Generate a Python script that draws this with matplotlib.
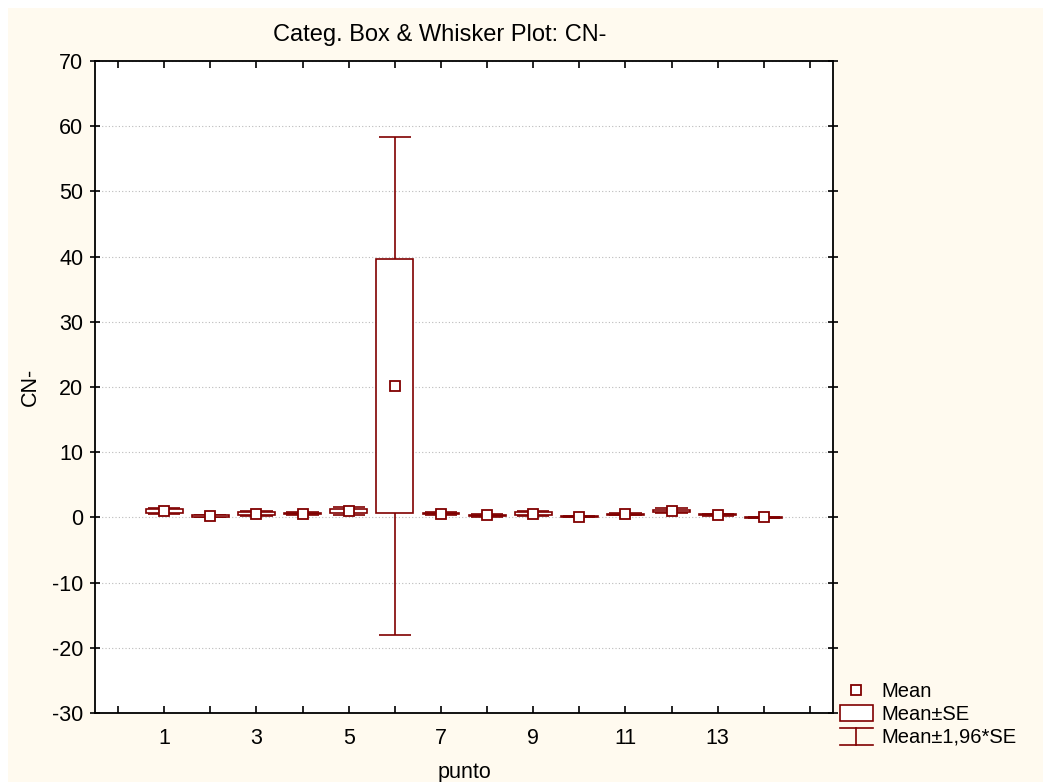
import numpy as np
import matplotlib
matplotlib.use("Agg")
import matplotlib.pyplot as plt
from matplotlib.patches import Rectangle
from matplotlib.lines import Line2D
from matplotlib.legend_handler import HandlerBase

plt.rcParams["font.family"] = ["Liberation Sans", "DejaVu Sans"]
plt.rcParams["axes.unicode_minus"] = False

DARK = "#800000"
CREAM = "#FFFAEF"
FS = 15.5

# ── data ──
punto = np.arange(1, 15)
means = [1.0, 0.2, 0.6, 0.6, 1.0, 20.15, 0.6, 0.3, 0.6, 0.1, 0.5, 1.0, 0.4, 0.0]
se = [0.25, 0.1, 0.2, 0.1, 0.3, 19.45, 0.1, 0.1, 0.2, 0.05, 0.1, 0.2, 0.1, 0.03]
xtick_labels = ["1", "3", "5", "7", "9", "11", "13"]

means = np.array(means)
se = np.array(se)
lo95 = means - 1.96 * se
hi95 = means + 1.96 * se


class WhiskerHandler(HandlerBase):
    def create_artists(self, legend, orig, xd, yd, w, h, fontsize, trans):
        cx = xd + w / 2
        arts = [
            Line2D([xd, xd + w], [yd + h * 1.05, yd + h * 1.05], color=DARK, lw=1.2),
            Line2D([xd, xd + w], [yd - h * 0.2, yd - h * 0.2], color=DARK, lw=1.2),
            Line2D([cx, cx], [yd - h * 0.2, yd + h * 1.05], color=DARK, lw=1.2),
        ]
        for a in arts:
            a.set_transform(trans)
        return arts


class BoxHandler(HandlerBase):
    def create_artists(self, legend, orig, xd, yd, w, h, fontsize, trans):
        r = Rectangle((xd, yd - h * 0.1), w, h * 1.15, facecolor="white",
                      edgecolor=DARK, lw=1.2, transform=trans)
        return [r]


fig = plt.figure(figsize=(10.43, 7.82), dpi=100, facecolor="white")
fig.patches.append(Rectangle((8 / 1043, 0), 1, 1 - 8 / 782, transform=fig.transFigure,
                             facecolor=CREAM, edgecolor="none", zorder=-10))
ax = fig.add_axes([0.0911, 0.0882, 0.7076, 0.8338])
ax.set_facecolor("white")

# whiskers
ax.vlines(punto, lo95, hi95, color=DARK, lw=1.2, zorder=2)
ax.hlines(lo95, punto - 0.35, punto + 0.35, color=DARK, lw=1.2, zorder=2)
ax.hlines(hi95, punto - 0.35, punto + 0.35, color=DARK, lw=1.2, zorder=2)
# SE boxes
ax.bar(punto, 2 * se, bottom=means - se, width=0.8, facecolor="white",
       edgecolor=DARK, lw=1.2, zorder=3)
# means
ax.plot(punto, means, ls="none", marker="s", ms=7, mfc="white", mec=DARK,
        mew=1.3, zorder=4)

ax.set_xlim(-0.5, 15.5)
ax.set_ylim(-30, 70)
ax.set_yticks(np.arange(-30, 71, 10))
ax.set_xticks(np.arange(0, 16))
labels = [""] * 16
for i, lab in zip(range(1, 14, 2), xtick_labels):
    labels[i] = lab
ax.set_xticklabels(labels)
ax.yaxis.grid(True, ls=(0, (1, 2)), color="#BBBBBB", lw=0.8, zorder=0)
ax.set_axisbelow(True)

ax.tick_params(axis="x", direction="in", top=True, bottom=True, length=5,
               width=1.2, labelsize=FS, pad=11)
ax.tick_params(axis="y", direction="inout", left=True, right=True, length=7,
               width=1.2, labelsize=FS, pad=5)
for sp in ax.spines.values():
    sp.set_linewidth(1.3)

ax.set_xlabel("punto", fontsize=FS, labelpad=9)
ax.set_ylabel("CN-", fontsize=FS, labelpad=8)
fig.text(0.422, 0.955, "Categ. Box & Whisker Plot: CN-", ha="center", va="center",
         fontsize=17)

h_mean = Line2D([], [], ls="none", marker="s", ms=7, mfc="white", mec=DARK, mew=1.3)
h_box = Rectangle((0, 0), 1, 1)
h_wh = Line2D([], [])
fig.legend([h_mean, h_box, h_wh], ["Mean", "Mean\u00b1SE", "Mean\u00b11,96*SE"],
           handler_map={h_box: BoxHandler(), h_wh: WhiskerHandler()},
           loc="upper left", bbox_to_anchor=(0.798, 0.138), frameon=False,
           fontsize=14.5, handlelength=1.6, handletextpad=0.45, labelspacing=0.18,
           borderaxespad=0)

fig.savefig("out.png", dpi=100, facecolor=fig.get_facecolor())
